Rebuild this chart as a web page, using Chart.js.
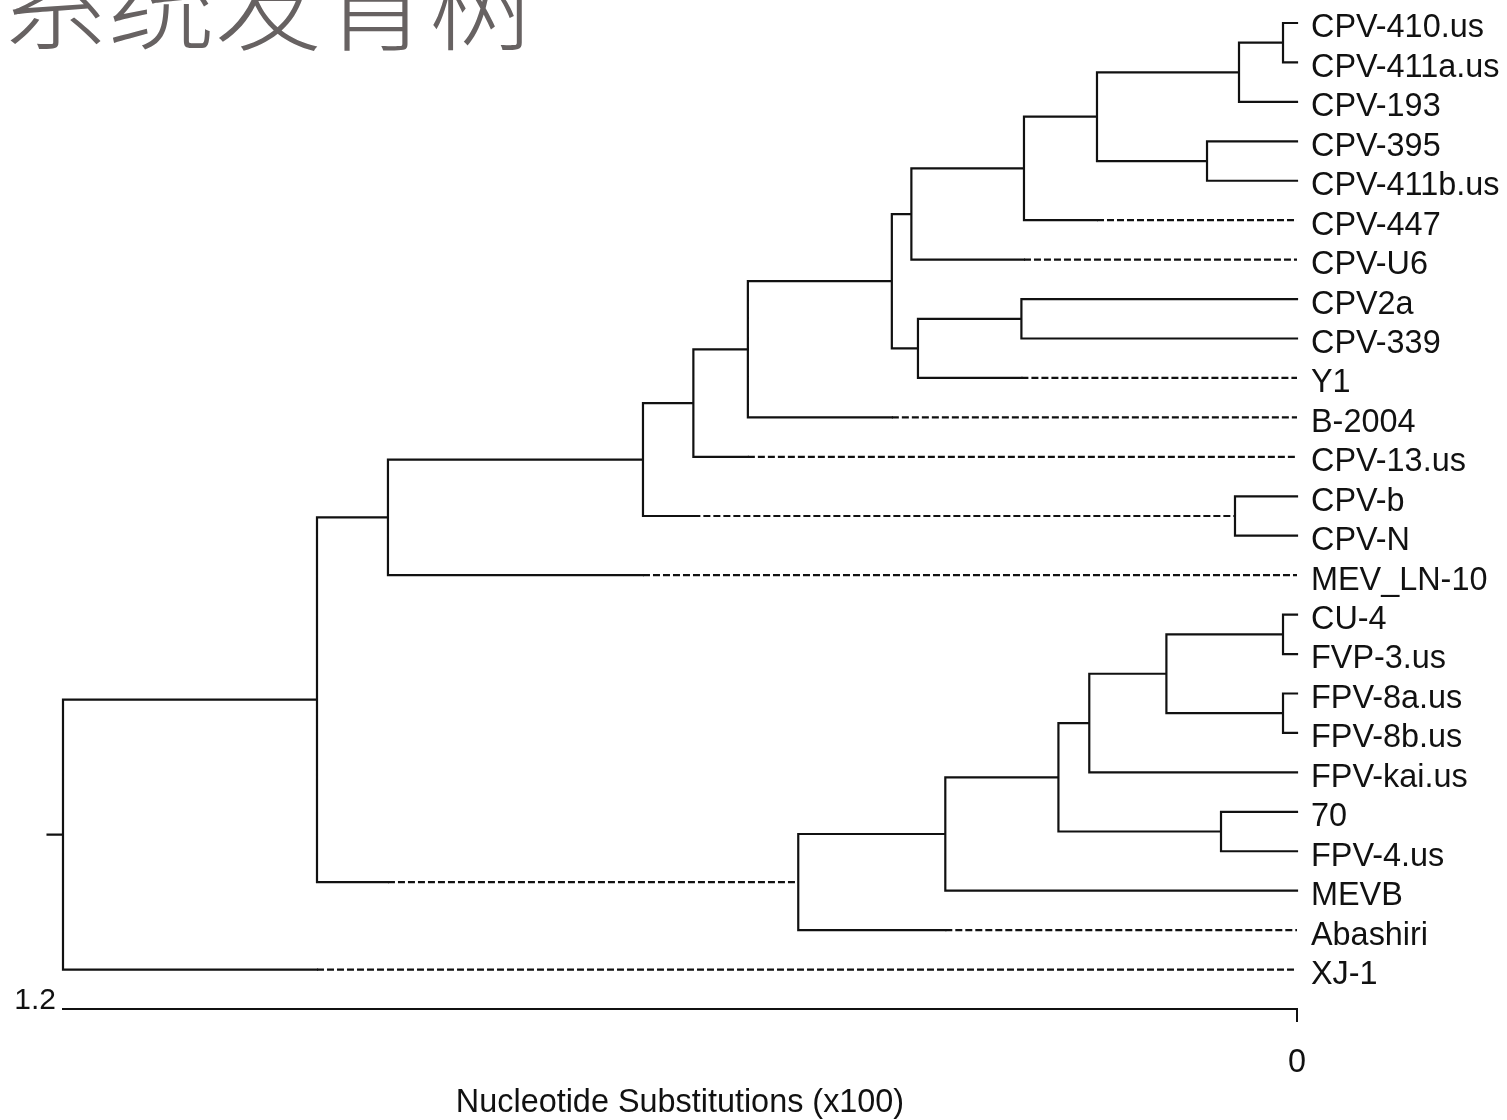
<!DOCTYPE html>
<html><head><meta charset="utf-8">
<script src="https://cdn.jsdelivr.net/npm/chart.js@4.4.0/dist/chart.umd.min.js"></script>
<style>
html,body{margin:0;padding:0;background:#fff;}
#wrap{position:relative;width:1507px;height:1120px;overflow:hidden;background:#fff;}
#title{position:absolute;left:1px;top:-58px;font-family:'Noto Sans CJK SC',sans-serif;font-weight:200;font-size:107px;line-height:1;color:#676262;white-space:nowrap;z-index:2;}
canvas{position:absolute;left:0;top:0;}
</style></head><body>
<div id="wrap"><div id="title">系统发育树</div><canvas id="c" width="1507" height="1120"></canvas></div>
<script>
// ---- data ----
const leaves = ['CPV-410.us','CPV-411a.us','CPV-193','CPV-395','CPV-411b.us','CPV-447','CPV-U6','CPV2a','CPV-339','Y1','B-2004','CPV-13.us','CPV-b','CPV-N','MEV_LN-10','CU-4','FVP-3.us','FPV-8a.us','FPV-8b.us','FPV-kai.us','70','FPV-4.us','MEVB','Abashiri','XJ-1'];
const nodeNames = ['R','A','B','C','D','E','F','G','H','I','J','K','L','M','N','P','Q','S','T','U','V','W1','W2','X'];
const nodeHeights = [1.2, 0.953, 0.884, 0.485, 0.636, 0.587, 0.534, 0.394, 0.375, 0.3686, 0.2655, 0.1945, 0.0564, 0.0136, 0.0875, 0.268, 0.0603, 0.342, 0.232, 0.202, 0.127, 0.0136, 0.0136, 0.0739];
const nodeChildren = [['A','XJ-1'],['B','C'],['D','MEV_LN-10'],['S','Abashiri'],['E','Q'],['F','CPV-13.us'],['G','B-2004'],['H','I'],['J','CPV-U6'],['P','Y1'],['K','CPV-447'],['L','N'],['M','CPV-193'],['CPV-410.us','CPV-411a.us'],['CPV-395','CPV-411b.us'],['CPV2a','CPV-339'],['CPV-b','CPV-N'],['T','MEVB'],['U','X'],['V','FPV-kai.us'],['W1','W2'],['CU-4','FVP-3.us'],['FPV-8a.us','FPV-8b.us'],['70','FPV-4.us']];
const dashedBranches = ['XJ-1','C','MEV_LN-10','Q','CPV-13.us','B-2004','CPV-U6','CPV-447','Y1','Abashiri'];
const xTickValues = [0];
const scaleBarMax = 1.2;
const rootStub = 0.015;
const axisTitle = 'Nucleotide Substitutions (x100)';

// ---- build tree geometry in data units ----
const heightOf = {}, yOf = {}, childrenOf = {};
leaves.forEach((n, i) => { heightOf[n] = 0; yOf[n] = i; });
nodeNames.forEach((n, i) => { heightOf[n] = nodeHeights[i]; childrenOf[n] = nodeChildren[i]; });
function computeY(n) {
  if (yOf[n] !== undefined) return yOf[n];
  const [a, b] = childrenOf[n];
  yOf[n] = (computeY(a) + computeY(b)) / 2;
  return yOf[n];
}
nodeNames.forEach(computeY);

const solid = [], dashed = [];
const gap = () => ({x: null, y: null});
nodeNames.forEach(n => {
  const h = heightOf[n];
  const [a, b] = childrenOf[n];
  const endOf = (c, s) => dashedBranches.includes(c) ? heightOf[s] : heightOf[c];
  solid.push({x: endOf(a, b), y: yOf[a]}, {x: h, y: yOf[a]}, {x: h, y: yOf[b]}, {x: endOf(b, a), y: yOf[b]}, gap());
  [[a, b], [b, a]].forEach(([c, s]) => {
    if (dashedBranches.includes(c)) dashed.push({x: heightOf[s], y: yOf[c]}, {x: heightOf[c], y: yOf[c]}, gap());
  });
});
const root = nodeNames[0];
solid.push({x: heightOf[root], y: yOf[root]}, {x: heightOf[root] + rootStub, y: yOf[root]});

Chart.defaults.font.family = "'Liberation Sans', Arial, sans-serif";
const INK = '#111';
const FONT_SIZE = 32.4;

const scaleLabelPlugin = {
  id: 'scaleLabel',
  afterDraw(chart) {
    const xs = chart.scales.x, ctx = chart.ctx;
    ctx.save();
    ctx.font = "30px 'Liberation Sans', Arial, sans-serif";
    ctx.fillStyle = INK;
    ctx.textAlign = 'right';
    ctx.textBaseline = 'alphabetic';
    ctx.fillText(String(scaleBarMax), xs.getPixelForValue(scaleBarMax) - 7, xs.top);
    ctx.restore();
  }
};

new Chart(document.getElementById('c'), {
  type: 'line',
  data: {datasets: [
    {data: solid, borderColor: INK, borderWidth: 2.2, pointRadius: 0, tension: 0, spanGaps: false, clip: false, borderCapStyle: 'square', borderJoinStyle: 'miter'},
    {data: dashed, borderColor: INK, borderWidth: 2.2, borderDash: [7, 3], pointRadius: 0, tension: 0, spanGaps: false, clip: false}
  ]},
  options: {
    responsive: false, devicePixelRatio: 1, animation: false,
    layout: {padding: {left: 63, top: 23, right: 0, bottom: 0}},
    plugins: {legend: {display: false}, tooltip: {enabled: false}, title: {display: false}},
    scales: {
      x: {
        type: 'linear', position: 'bottom', reverse: true, min: 0, max: scaleBarMax,
        afterBuildTicks: s => { s.ticks = xTickValues.map(v => ({value: v})); },
        afterFit: s => { s.height = 111; s.paddingLeft = 0; s.paddingRight = 0; },
        grid: {display: true, drawOnChartArea: false, drawTicks: true, tickLength: 13, color: INK, lineWidth: 2},
        border: {display: true, color: INK, width: 2},
        ticks: {padding: 22, color: INK, font: {size: FONT_SIZE}, maxRotation: 0, autoSkip: false},
        title: {display: true, text: axisTitle, color: INK, font: {size: FONT_SIZE}, padding: {top: 0, bottom: -3}}
      },
      y: {
        type: 'linear', position: 'right', reverse: true, min: 0, max: leaves.length,
        afterBuildTicks: s => { s.ticks = leaves.map((_, i) => ({value: i})); },
        afterFit: s => { s.width = 210; s.paddingTop = 0; s.paddingBottom = 0; },
        grid: {display: false, drawTicks: false}, border: {display: false},
        ticks: {padding: 14, color: INK, font: {size: FONT_SIZE}, autoSkip: false, labelOffset: 5.5, callback: v => leaves[v]}
      }
    }
  },
  plugins: [scaleLabelPlugin]
});
</script>
</body></html>
